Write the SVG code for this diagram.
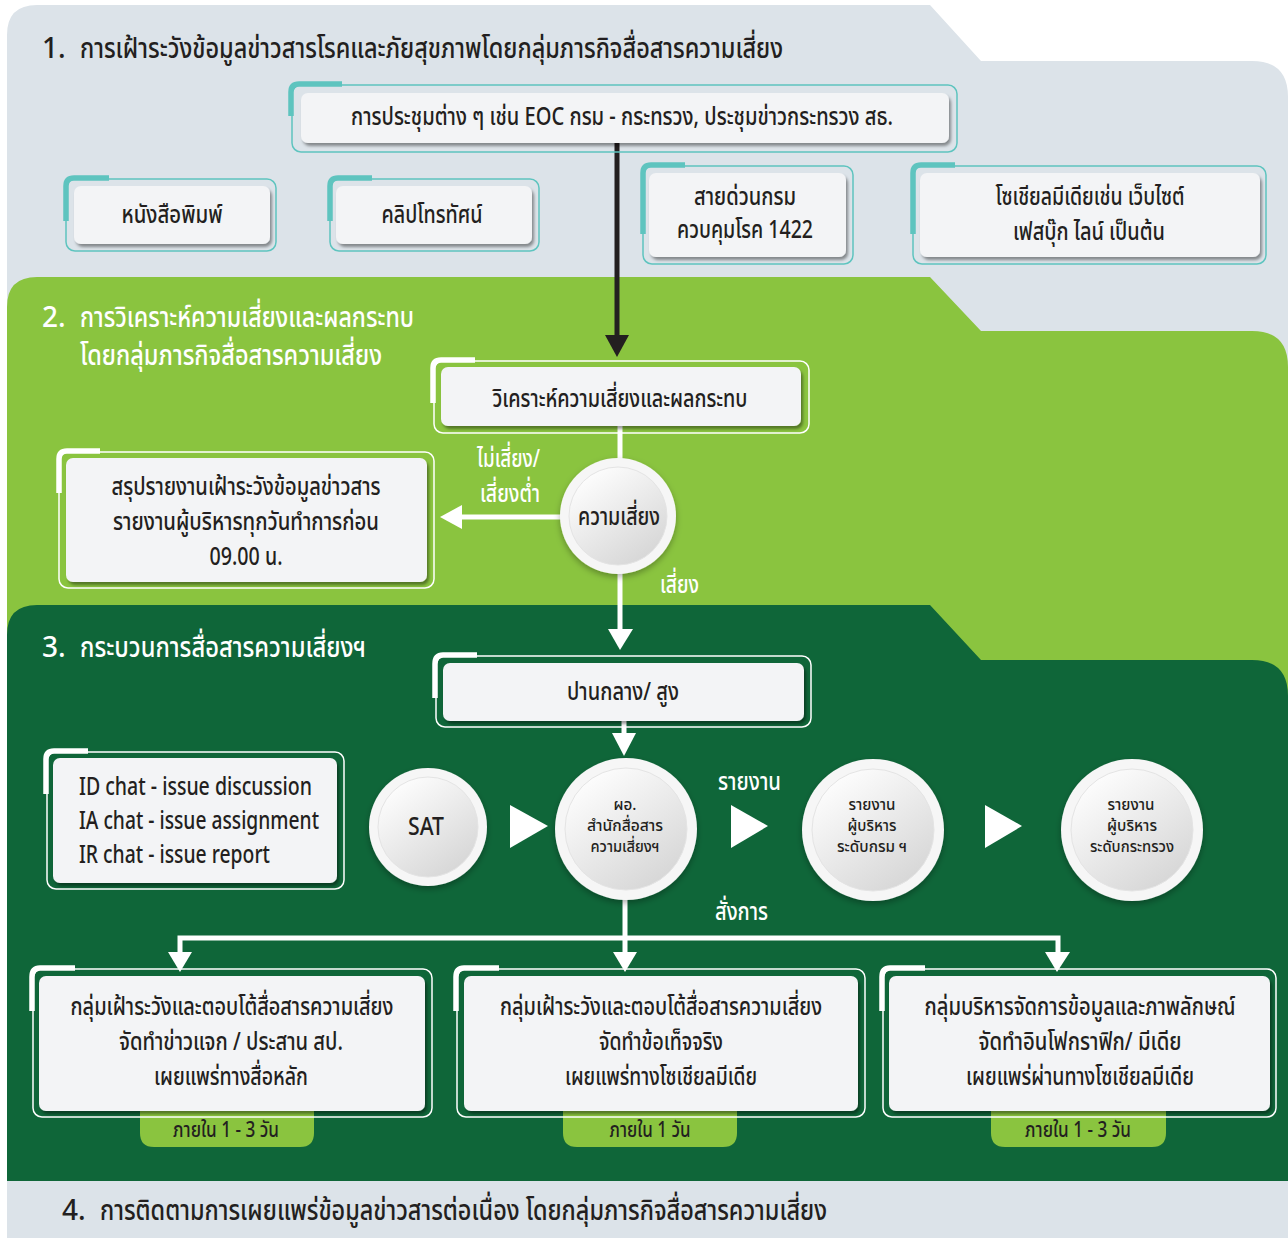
<svg xmlns="http://www.w3.org/2000/svg" width="1288" height="1238" viewBox="0 0 1288 1238">
<defs>
<style>
text{font-family:"Noto Sans","Noto Sans Thai","DejaVu Sans",sans-serif;font-weight:500;}
.dk{fill:#231f20}
.wt{fill:#ffffff}
.t{font-size:25px;text-anchor:middle;fill:#231f20}
.tl{font-size:25px;fill:#231f20}
.ttl{font-size:28px}
.sm{font-size:16px;text-anchor:middle;fill:#231f20}
.lb{font-size:25px;fill:#ffffff}
.tb{font-size:21px;text-anchor:middle;fill:#231f20}
.o1{fill:none;stroke:#5ec4bf;stroke-width:1.5}
.o2{fill:none;stroke:#ffffff;stroke-width:1.5}
.in{fill:#f3f4f6;filter:url(#sh)}
.b1{fill:none;stroke:#5ec4bf;stroke-width:5.5}
.b2{fill:none;stroke:#ffffff;stroke-width:5.5}
.wl{fill:none;stroke:#ffffff;stroke-width:5}
.bl{fill:none;stroke:#231f20;stroke-width:5}
.ring{fill:#f6f6f6;filter:url(#csh)}
.core{fill:url(#cg);stroke:#e4e4e4;stroke-width:1}
.tab{fill:#8ac43f}
</style>
<filter id="sh" x="-10%" y="-10%" width="125%" height="135%"><feDropShadow dx="2" dy="3" stdDeviation="1.5" flood-color="#000" flood-opacity="0.4"/></filter>
<filter id="csh" x="-20%" y="-20%" width="140%" height="145%"><feDropShadow dx="0" dy="3" stdDeviation="3" flood-color="#000" flood-opacity="0.3"/></filter>
<linearGradient id="cg" x1="0.2" y1="0.1" x2="0.8" y2="0.95"><stop offset="0" stop-color="#fcfcfc"/><stop offset="1" stop-color="#d6d6d6"/></linearGradient>
</defs>

<rect width="1288" height="1238" fill="#ffffff"/>
<!-- panels -->
<path d="M7,35 Q7,5 37,5 H930 L981,61 H1252 Q1288,61 1288,97 V1238 H7 Z" fill="#dce3e9"/>
<path d="M7,307 Q7,277 37,277 H930 L981,331 H1252 Q1288,331 1288,367 V1181 H7 Z" fill="#8ac43f"/>
<path d="M7,635 Q7,605 37,605 H930 L981,660 H1252 Q1288,660 1288,696 V1181 H7 Z" fill="#0f6639"/>

<!-- titles -->
<g id="title1"><text class="dk ttl" x="42" y="58">1.</text><text class="dk ttl" x="80" y="58" textLength="703" lengthAdjust="spacingAndGlyphs">การเฝ้าระวังข้อมูลข่าวสารโรคและภัยสุขภาพโดยกลุ่มภารกิจสื่อสารความเสี่ยง</text></g>
<g id="title2"><text class="wt ttl" x="42" y="327">2.</text><text class="wt ttl" x="80" y="327" textLength="334" lengthAdjust="spacingAndGlyphs">การวิเคราะห์ความเสี่ยงและผลกระทบ</text><text class="wt ttl" x="80" y="365" textLength="302" lengthAdjust="spacingAndGlyphs">โดยกลุ่มภารกิจสื่อสารความเสี่ยง</text></g>
<g id="title3"><text class="wt ttl" x="42" y="657">3.</text><text class="wt ttl" x="80" y="657" textLength="286" lengthAdjust="spacingAndGlyphs">กระบวนการสื่อสารความเสี่ยงฯ</text></g>
<g id="title4"><text class="dk ttl" x="62" y="1220">4.</text><text class="dk ttl" x="100" y="1220" textLength="727" lengthAdjust="spacingAndGlyphs">การติดตามการเผยแพร่ข้อมูลข่าวสารต่อเนื่อง โดยกลุ่มภารกิจสื่อสารความเสี่ยง</text></g>

<!-- connectors -->
<g id="connectors">
<line class="bl" x1="617" y1="143" x2="617" y2="337"/>
<polygon points="605,335 629,335 617,357" fill="#231f20"/>
<line class="wl" x1="620" y1="426" x2="620" y2="460"/>
<line class="wl" x1="562" y1="517" x2="458" y2="517"/>
<polygon points="462,505 462,529 440,517" fill="#ffffff"/>
<line class="wl" x1="620" y1="572" x2="620" y2="632"/>
<polygon points="608,629 633,629 620,650" fill="#ffffff"/>
<line class="wl" x1="624" y1="719" x2="624" y2="736"/>
<polygon points="612,733 636,733 624,756" fill="#ffffff"/>
<polygon points="510,805 548,826 510,848" fill="#ffffff"/>
<polygon points="731,805 768,826 731,848" fill="#ffffff"/>
<polygon points="985,805 1022,826 985,848" fill="#ffffff"/>
<path class="wl" d="M625,898 V938 M180,955 V938 H1058 V955 M625,938 V955"/>
<polygon points="168,952 192,952 180,972" fill="#ffffff"/>
<polygon points="613,952 637,952 625,972" fill="#ffffff"/>
<polygon points="1045,952 1070,952 1057,972" fill="#ffffff"/>
<text class="lb" x="477" y="467" textLength="63" lengthAdjust="spacingAndGlyphs">ไม่เสี่ยง/</text>
<text class="lb" x="480" y="502" textLength="60" lengthAdjust="spacingAndGlyphs">เสี่ยงต่ำ</text>
<text class="lb" x="660" y="593" textLength="39" lengthAdjust="spacingAndGlyphs">เสี่ยง</text>
<text class="lb" x="718" y="790" textLength="63" lengthAdjust="spacingAndGlyphs">รายงาน</text>
<text class="lb" x="715" y="920" textLength="53" lengthAdjust="spacingAndGlyphs">สั่งการ</text>
</g>

<!-- section 1 nodes -->
<g id="meeting">
<rect class="o1" x="292" y="85" width="665" height="67" rx="9"/>
<rect class="in" x="301" y="93" width="648" height="50" rx="7"/>
<path class="b1" d="M291,116 V92 Q291,84 299,84 H342"/>
<text class="t" x="622" y="125" textLength="542" lengthAdjust="spacingAndGlyphs">การประชุมต่าง ๆ เช่น EOC กรม - กระทรวง, ประชุมข่าวกระทรวง สธ.</text>
</g>
<g id="newspaper">
<rect class="o1" x="66" y="179" width="210" height="72" rx="9"/>
<rect class="in" x="74" y="186" width="196" height="58" rx="7"/>
<path class="b1" d="M66,221 V186 Q66,178 74,178 H109"/>
<text class="t" x="172" y="223" textLength="101" lengthAdjust="spacingAndGlyphs">หนังสือพิมพ์</text>
</g>
<g id="tvclip">
<rect class="o1" x="330" y="179" width="209" height="72" rx="9"/>
<rect class="in" x="336" y="186" width="196" height="58" rx="7"/>
<path class="b1" d="M330,221 V186 Q330,178 338,178 H372"/>
<text class="t" x="432" y="223" textLength="101" lengthAdjust="spacingAndGlyphs">คลิปโทรทัศน์</text>
</g>
<g id="hotline">
<rect class="o1" x="643" y="166" width="210" height="98" rx="9"/>
<rect class="in" x="649" y="173" width="197" height="84" rx="7"/>
<path class="b1" d="M643,234 V173 Q643,165 651,165 H685"/>
<text class="t" x="745" y="205" textLength="102" lengthAdjust="spacingAndGlyphs">สายด่วนกรม</text>
<text class="t" x="745" y="238" textLength="136" lengthAdjust="spacingAndGlyphs">ควบคุมโรค 1422</text>
</g>
<g id="social">
<rect class="o1" x="913" y="166" width="353" height="98" rx="9"/>
<rect class="in" x="920" y="173" width="340" height="84" rx="7"/>
<path class="b1" d="M913,234 V173 Q913,165 921,165 H955"/>
<text class="t" x="1090" y="205" textLength="189" lengthAdjust="spacingAndGlyphs">โซเชียลมีเดียเช่น เว็บไซต์</text>
<text class="t" x="1089" y="240" textLength="152" lengthAdjust="spacingAndGlyphs">เฟสบุ๊ก ไลน์ เป็นต้น</text>
</g>

<!-- section 2 nodes -->
<g id="analyze">
<rect class="o2" x="434" y="361" width="375" height="72" rx="9"/>
<rect class="in" x="441" y="367" width="360" height="59" rx="7"/>
<path class="b2" d="M433,403 V368 Q433,360 441,360 H475"/>
<text class="t" x="620" y="407" textLength="255" lengthAdjust="spacingAndGlyphs">วิเคราะห์ความเสี่ยงและผลกระทบ</text>
</g>
<g id="risk">
<circle class="ring" cx="618" cy="516" r="58"/>
<circle class="core" cx="618" cy="516" r="49"/>
<text class="t" x="619" y="525" textLength="82" lengthAdjust="spacingAndGlyphs">ความเสี่ยง</text>
</g>
<g id="summary">
<rect class="o2" x="59" y="452" width="375" height="136" rx="9"/>
<rect class="in" x="66" y="458" width="361" height="124" rx="7"/>
<path class="b2" d="M59,493 V459 Q59,451 67,451 H100"/>
<text class="t" x="246" y="495" textLength="269" lengthAdjust="spacingAndGlyphs">สรุปรายงานเฝ้าระวังข้อมูลข่าวสาร</text>
<text class="t" x="246" y="530" textLength="266" lengthAdjust="spacingAndGlyphs">รายงานผู้บริหารทุกวันทำการก่อน</text>
<text class="t" x="246" y="565" textLength="73" lengthAdjust="spacingAndGlyphs">09.00 น.</text>
</g>

<!-- section 3 nodes -->
<g id="level">
<rect class="o2" x="436" y="656" width="375" height="71" rx="9"/>
<rect class="in" x="443" y="663" width="361" height="58" rx="7"/>
<path class="b2" d="M435,698 V664 Q435,655 443,655 H477"/>
<text class="t" x="623" y="700" textLength="112" lengthAdjust="spacingAndGlyphs">ปานกลาง/ สูง</text>
</g>
<g id="chats">
<rect class="o2" x="47" y="752" width="297" height="137" rx="9"/>
<rect class="in" x="53" y="758" width="284" height="125" rx="7"/>
<path class="b2" d="M46,794 V759 Q46,751 54,751 H88"/>
<text class="tl" x="79" y="795" textLength="233" lengthAdjust="spacingAndGlyphs">ID chat - issue discussion</text>
<text class="tl" x="79" y="829" textLength="240" lengthAdjust="spacingAndGlyphs">IA chat - issue assignment</text>
<text class="tl" x="79" y="863" textLength="191" lengthAdjust="spacingAndGlyphs">IR chat - issue report</text>
</g>
<g id="sat">
<circle class="ring" cx="428" cy="827" r="59"/>
<circle class="core" cx="428" cy="827" r="50"/>
<text class="t" x="426" y="835" textLength="36" lengthAdjust="spacingAndGlyphs">SAT</text>
</g>
<g id="director">
<circle class="ring" cx="626" cy="829" r="71"/>
<circle class="core" cx="626" cy="829" r="61"/>
<text class="sm" x="625" y="810" textLength="23" lengthAdjust="spacingAndGlyphs">ผอ.</text>
<text class="sm" x="625" y="831" textLength="76" lengthAdjust="spacingAndGlyphs">สำนักสื่อสาร</text>
<text class="sm" x="625" y="852" textLength="69" lengthAdjust="spacingAndGlyphs">ความเสี่ยงฯ</text>
</g>
<g id="dept">
<circle class="ring" cx="873" cy="830" r="71"/>
<circle class="core" cx="873" cy="830" r="61"/>
<text class="sm" x="872" y="810" textLength="47" lengthAdjust="spacingAndGlyphs">รายงาน</text>
<text class="sm" x="872" y="831" textLength="49" lengthAdjust="spacingAndGlyphs">ผู้บริหาร</text>
<text class="sm" x="872" y="852" textLength="70" lengthAdjust="spacingAndGlyphs">ระดับกรม ฯ</text>
</g>
<g id="ministry">
<circle class="ring" cx="1132" cy="830" r="71"/>
<circle class="core" cx="1132" cy="830" r="61"/>
<text class="sm" x="1131" y="810" textLength="47" lengthAdjust="spacingAndGlyphs">รายงาน</text>
<text class="sm" x="1132" y="831" textLength="50" lengthAdjust="spacingAndGlyphs">ผู้บริหาร</text>
<text class="sm" x="1132" y="852" textLength="84" lengthAdjust="spacingAndGlyphs">ระดับกระทรวง</text>
</g>

<g id="group1">
<path class="tab" d="M140,1110 H314 V1133 Q314,1147 300,1147 H154 Q140,1147 140,1133 Z"/>
<rect class="o2" x="33" y="969" width="399" height="148" rx="9"/>
<rect class="in" x="39" y="976" width="386" height="135" rx="7"/>
<path class="b2" d="M32,1011 V977 Q32,968 40,968 H75"/>
<text class="t" x="232" y="1015" textLength="323" lengthAdjust="spacingAndGlyphs">กลุ่มเฝ้าระวังและตอบโต้สื่อสารความเสี่ยง</text>
<text class="t" x="231" y="1050" textLength="224" lengthAdjust="spacingAndGlyphs">จัดทำข่าวแจก / ประสาน สป.</text>
<text class="t" x="231" y="1085" textLength="154" lengthAdjust="spacingAndGlyphs">เผยแพร่ทางสื่อหลัก</text>
<text class="tb" x="226" y="1137" textLength="106" lengthAdjust="spacingAndGlyphs">ภายใน 1 - 3 วัน</text>
</g>
<g id="group2">
<path class="tab" d="M563,1110 H737 V1133 Q737,1147 723,1147 H577 Q563,1147 563,1133 Z"/>
<rect class="o2" x="457" y="969" width="408" height="148" rx="9"/>
<rect class="in" x="464" y="976" width="394" height="135" rx="7"/>
<path class="b2" d="M456,1011 V977 Q456,968 464,968 H499"/>
<text class="t" x="661" y="1015" textLength="322" lengthAdjust="spacingAndGlyphs">กลุ่มเฝ้าระวังและตอบโต้สื่อสารความเสี่ยง</text>
<text class="t" x="661" y="1050" textLength="124" lengthAdjust="spacingAndGlyphs">จัดทำข้อเท็จจริง</text>
<text class="t" x="661" y="1085" textLength="192" lengthAdjust="spacingAndGlyphs">เผยแพร่ทางโซเชียลมีเดีย</text>
<text class="tb" x="650" y="1137" textLength="81" lengthAdjust="spacingAndGlyphs">ภายใน 1 วัน</text>
</g>
<g id="group3">
<path class="tab" d="M991,1110 H1166 V1133 Q1166,1147 1152,1147 H1005 Q991,1147 991,1133 Z"/>
<rect class="o2" x="883" y="969" width="393" height="148" rx="9"/>
<rect class="in" x="889" y="976" width="381" height="135" rx="7"/>
<path class="b2" d="M882,1011 V977 Q882,968 890,968 H925"/>
<text class="t" x="1080" y="1015" style="font-size:24px" textLength="311" lengthAdjust="spacingAndGlyphs">กลุ่มบริหารจัดการข้อมูลและภาพลักษณ์</text>
<text class="t" x="1080" y="1050" textLength="203" lengthAdjust="spacingAndGlyphs">จัดทำอินโฟกราฟิก/ มีเดีย</text>
<text class="t" x="1080" y="1085" textLength="228" lengthAdjust="spacingAndGlyphs">เผยแพร่ผ่านทางโซเชียลมีเดีย</text>
<text class="tb" x="1078" y="1137" textLength="106" lengthAdjust="spacingAndGlyphs">ภายใน 1 - 3 วัน</text>
</g>
</svg>
